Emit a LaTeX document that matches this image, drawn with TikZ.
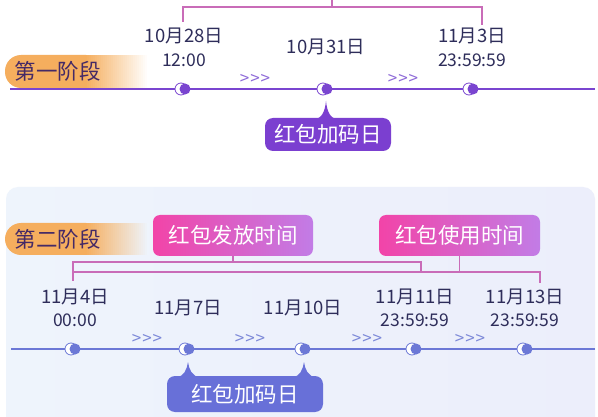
\documentclass[tikz,border=0pt]{standalone}
\usepackage{fontspec}
\setmainfont{Noto Sans CJK SC}[Ligatures=NoCommon]
\usetikzlibrary{calc}
\definecolor{navy}{HTML}{2E2D5A}
\definecolor{pOrange}{HTML}{F5AE5E}
\definecolor{pillText}{HTML}{452A66}
\definecolor{lineA}{HTML}{7A45D0}
\definecolor{callA}{HTML}{7B3FD0}
\definecolor{lineB}{HTML}{6C78D6}
\definecolor{callB}{HTML}{6870D8}
\definecolor{chevA}{HTML}{8E6AD8}
\definecolor{chevB}{HTML}{7C88D8}
\definecolor{pinkL}{HTML}{F244A8}
\definecolor{pinkR}{HTML}{C27CE6}
\definecolor{brk}{HTML}{C96CB8}
\definecolor{panelL}{HTML}{EEF4FC}
\definecolor{panelR}{HTML}{ECEEFB}
\newcommand\tlmark[2]{%
  \draw[#2, line width=0.8pt, fill=white] ($(#1)+(-3,0)$) circle (6);
  \fill[#2] ($(#1)+(1,0)$) circle (5.5);}
\newcommand\tlpointer[4]{% coordinate, colour, tip offset, top offset
  \fill[#2] ($(#1)+(-12,#4)$) .. controls ($(#1)+(-4,#4)$) and ($(#1)+(-1,#4-8)$) .. ($(#1)+(0,#3)$)
    .. controls ($(#1)+(1,#4-8)$) and ($(#1)+(4,#4)$) .. ($(#1)+(12,#4)$) -- cycle;}
\newcommand\phasepill[3]{% top y, bottom y, background colour
  \fill[pOrange] (5,#1) [rounded corners=16pt] -- (5,#2) [sharp corners] -- (86,#2) -- (86,#1) [rounded corners=16pt] -- cycle;
  \foreach \i in {0,...,31}{%
    \pgfmathsetmacro\pc{100*(1-\i/31)}%
    \fill[pOrange!\pc!#3] (85+2*\i,#1) rectangle (87.4+2*\i,#2);}}
\newcommand\chevs{{>}\kern1pt{>}\kern1pt{>}}
\begin{document}
\begin{tikzpicture}[x=1pt,y=-1pt,
  datetxt/.style={text=navy, inner sep=0pt, font=\fontsize{18.5}{20}\selectfont},
  timetxt/.style={text=navy, inner sep=0pt, font=\fontsize{17.5}{20}\selectfont},
  pilltxt/.style={text=pillText, inner sep=0pt, font=\fontsize{21.5}{24}\selectfont},
  chev/.style={inner sep=0pt, font=\fontsize{17}{18}\selectfont},
  callbox/.style={text=white, inner sep=0pt, rounded corners=8pt, font=\fontsize{21.5}{24}\selectfont},
  pinkbox/.style={text=white, inner sep=0pt, rounded corners=7pt, left color=pinkL, right color=pinkR,
     minimum height=41pt, font=\fontsize{21.5}{24}\selectfont},
  brline/.style={brk, line width=1.4pt}]
\useasboundingbox (0,0) rectangle (598,417);
\fill[white] (0,0) rectangle (598,417);

% ---------- phase 1 ----------
\coordinate (t1top) at (332,0);
\coordinate (t1mid) at (332,7);
\coordinate (t1L) at (183,7);
\coordinate (t1R) at (482,7);
\coordinate (t1Ld) at (183,22);
\coordinate (t1Rd) at (482,25);
\draw[brline] (t1top) -- (t1mid);
\draw[brline] (t1Ld) -- (t1L) -- (t1R) -- (t1Rd);

\phasepill{55}{88}{white}
\node[pilltxt] (ph1) at (58,71.5) {第一阶段};

\coordinate (l1s) at (10,89);
\coordinate (l1e) at (595,89);
\draw[lineA, line width=2pt] (l1s) -- (l1e);

\coordinate (a1) at (184,89);
\coordinate (a2) at (326,89);
\coordinate (a3) at (472,89);

\node[datetxt] (d1) at (184,36) {10月28日};
\node[timetxt] (d1t) at (184,60) {12:00};
\node[datetxt] (d2) at (326,47) {10月31日};
\node[datetxt] (d3) at (472,36) {11月3日};
\node[timetxt] (d3t) at (472,60) {23:59:59};

\node[chev, text=chevA] (c11) at (255,79) {\chevs};
\node[chev, text=chevA] (c12) at (403,79) {\chevs};

\tlpointer{a2}{callA}{12}{30}
\node[callbox, fill=callA, minimum width=126pt, minimum height=33pt] (k1) at (328,134.5) {红包加码日};

\tlmark{a1}{lineA}
\tlmark{a2}{lineA}
\tlmark{a3}{lineA}

% ---------- phase 2 ----------
\shade[left color=panelL, right color=panelR, rounded corners=12pt] (6,430) -- (6,187) -- (595,187) -- (595,430) -- cycle;

\phasepill{223}{255}{panelL}
\node[pilltxt] (ph2) at (58,239) {第二阶段};

\node[pinkbox, minimum width=160pt] (g1) at (233,235.5) {红包发放时间};
\node[pinkbox, minimum width=161pt] (u1) at (459.5,235.5) {红包使用时间};

\coordinate (g1d) at (g1.south |- 0,262);
\coordinate (u1d) at (u1.south |- 0,272);
\coordinate (b1a) at (73,262);
\coordinate (b1b) at (421,262);
\coordinate (b1c) at (421,272);
\coordinate (b2a) at (73,272);
\coordinate (b2b) at (540,272);
\coordinate (b2c) at (540,283);
\coordinate (b0) at (73,281);
\draw[brline] (g1.south) -- (g1d);
\draw[brline] (u1.south) -- (u1d);
\draw[brline] (b0) -- (b1a) -- (b1b) -- (b1c);
\draw[brline] (b2a) -- (b2b) -- (b2c);

\coordinate (l2s) at (11,349);
\coordinate (l2e) at (595,349);
\draw[lineB, line width=2pt] (l2s) -- (l2e);

\coordinate (e1) at (74,349);
\coordinate (e2) at (188,349);
\coordinate (e3) at (304,349);
\coordinate (e4) at (415,349);
\coordinate (e5) at (526,349);

\node[datetxt] (f1) at (75,297) {11月4日};
\node[timetxt] (f1t) at (75,320) {00:00};
\node[datetxt] (f2) at (188,308) {11月7日};
\node[datetxt] (f3) at (303,308) {11月10日};
\node[datetxt] (f4) at (415,297) {11月11日};
\node[timetxt] (f4t) at (415,320) {23:59:59};
\node[datetxt] (f5) at (525,297) {11月13日};
\node[timetxt] (f5t) at (525,320) {23:59:59};

\node[chev, text=chevB] (c21) at (147,339) {\chevs};
\node[chev, text=chevB] (c22) at (250,339) {\chevs};
\node[chev, text=chevB] (c23) at (367,339) {\chevs};
\node[chev, text=chevB] (c24) at (470,339) {\chevs};

\tlpointer{e2}{callB}{13}{28}
\tlpointer{e3}{callB}{13}{28}
\node[callbox, fill=callB, minimum width=156pt, minimum height=36pt] (k2) at (245,394) {红包加码日};

\tlmark{e1}{lineB}
\tlmark{e2}{lineB}
\tlmark{e3}{lineB}
\tlmark{e4}{lineB}
\tlmark{e5}{lineB}
\end{tikzpicture}
\end{document}
